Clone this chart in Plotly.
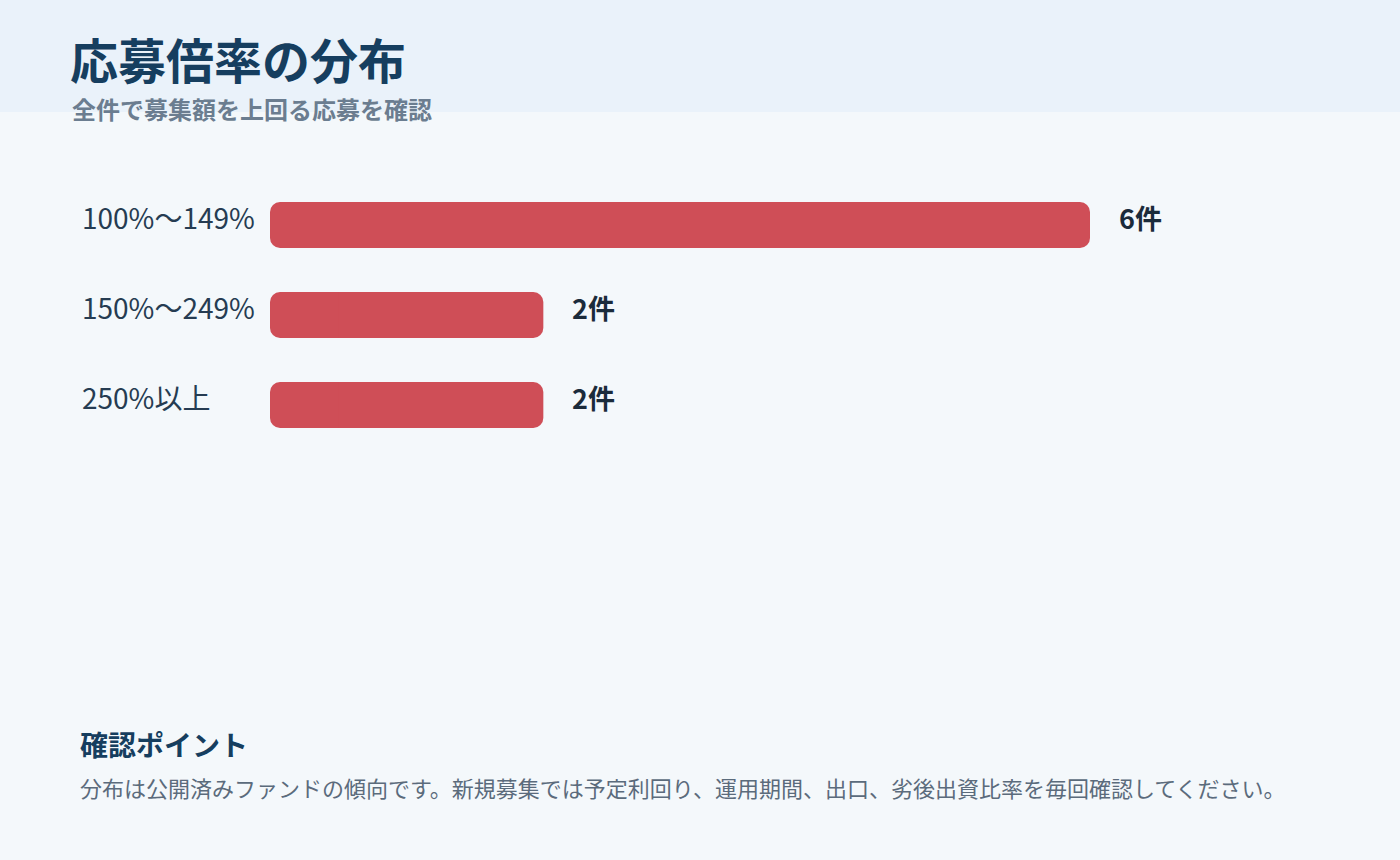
import plotly.graph_objects as go

categories = ["100%〜149%", "150%〜249%", "250%以上"]
counts = [6, 2, 2]
value_labels = ["6件", "2件", "2件"]

title = "応募倍率の分布"
subtitle = "全件で募集額を上回る応募を確認"
note_title = "確認ポイント"
note_text = "分布は公開済みファンドの傾向です。新規募集では予定利回り、運用期間、出口、劣後出資比率を毎回確認してください。"

FONT = "Noto Sans CJK JP"
BAR = "#cf4e57"
W, H = 1400, 860
L, R, T, B = 270, 310, 180, 410
pw, ph = W - L - R, H - T - B

def px_x(x):
    return (x - L) / pw

def px_y(y):
    return 1 - (y - T) / ph

half = [v / 2 for v in counts]
quarter = [v / 4 for v in counts]
common = dict(y=categories, orientation="h", width=0.51, hoverinfo="skip")

fig = go.Figure()
# right half, rounded at its tip (right end)
fig.add_trace(go.Bar(x=half, base=half, marker=dict(color=BAR, line=dict(width=0), cornerradius=10), **common))
# left half, drawn backwards so its rounded tip is at zero
fig.add_trace(go.Bar(x=[-h for h in half], base=half, marker=dict(color=BAR, line=dict(width=0), cornerradius=10), **common))
# middle filler to hide the seam
fig.add_trace(go.Bar(x=half, base=quarter, marker=dict(color=BAR, line=dict(width=0), cornerradius=0), **common))

annotations = []
for c in categories:
    annotations.append(dict(x=px_x(80), xref="paper", y=c, yref="y", text=c,
                            xanchor="left", yanchor="middle", yshift=8, showarrow=False,
                            font=dict(family=FONT, size=28, color="#263c52")))
for c, v, t in zip(categories, counts, value_labels):
    annotations.append(dict(x=v, xref="x", y=c, yref="y", text=f"<b>{t}</b>",
                            xanchor="left", yanchor="middle", xshift=27, yshift=8, showarrow=False,
                            font=dict(family=FONT, size=27, color="#1b2b3b")))
annotations += [
    dict(x=px_x(68), y=px_y(58), xref="paper", yref="paper", text=f"<b>{title}</b>",
         xanchor="left", yanchor="middle", showarrow=False,
         font=dict(family=FONT, size=48, color="#163e5f")),
    dict(x=px_x(70), y=px_y(109), xref="paper", yref="paper", text=f"<b>{subtitle}</b>",
         xanchor="left", yanchor="middle", showarrow=False,
         font=dict(family=FONT, size=24, color="#6b7d90")),
    dict(x=px_x(78), y=px_y(744), xref="paper", yref="paper", text=f"<b>{note_title}</b>",
         xanchor="left", yanchor="middle", showarrow=False,
         font=dict(family=FONT, size=28, color="#163e5f")),
    dict(x=px_x(78), y=px_y(787), xref="paper", yref="paper", text=note_text,
         xanchor="left", yanchor="middle", showarrow=False,
         font=dict(family=FONT, size=22, color="#5b6b7c")),
]

fig.update_layout(
    width=W, height=H,
    margin=dict(l=L, r=R, t=T, b=B, pad=0),
    paper_bgcolor="#f4f8fb", plot_bgcolor="rgba(0,0,0,0)",
    barmode="overlay",
    showlegend=False,
    xaxis=dict(range=[0, 6], visible=False, fixedrange=True),
    yaxis=dict(categoryorder="array", categoryarray=categories,
               range=[2.5, -0.5], visible=False, fixedrange=True),
    annotations=annotations,
    shapes=[dict(type="rect", xref="paper", yref="paper", x0=px_x(0), x1=px_x(W),
                 y0=px_y(112), y1=px_y(0), fillcolor="#eaf2fa", line=dict(width=0),
                 layer="below")],
)

fig.write_html("out.html")
